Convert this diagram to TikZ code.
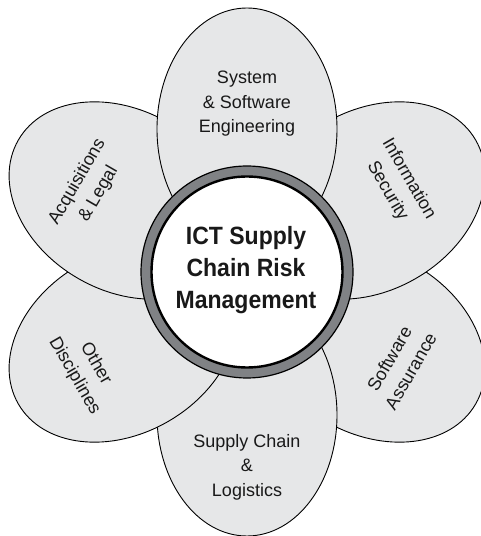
\documentclass[tikz,border=0pt]{standalone}
\usepackage{fontspec}
\setmainfont{Liberation Sans}
\newfontfamily\centerfont[FakeStretch=0.92]{Liberation Sans}
\usetikzlibrary{shapes.geometric,calc}
\definecolor{petalgray}{HTML}{E6E7E8}
\definecolor{ringgray}{HTML}{808285}
\begin{document}
\begin{tikzpicture}[x=1pt,y=1pt,
  petal/.style={ellipse, draw=black, line width=0.9pt, fill=petalgray,
    minimum width=242pt, minimum height=180pt, inner sep=0pt},
  petallabel/.style={align=center, font=\fontsize{18}{24.5}\selectfont, text=black!90, inner sep=0pt},
  ringnode/.style={circle, draw=black, line width=1.2pt, fill=ringgray, minimum size=212pt, inner sep=0pt},
  corenode/.style={circle, draw=black, line width=2.4pt, fill=white, minimum size=191pt, inner sep=0pt},
  coretext/.style={align=center, font=\centerfont\bfseries\fontsize{25}{32}\selectfont, text=black!90, inner sep=0pt}]
\clip (0,0) rectangle (481,536);
\fill[white] (0,0) rectangle (481,536);
\coordinate (C) at (247,264);
% petals (drawing order gives the overlaps)
\node[petal, rotate=-30] (pLR) at ($(C)+(-30:143)$) {};
\node[petal, rotate=30] (pUR) at ($(C)+(30:143)$) {};
\node[petal, rotate=-90] (pB) at ($(C)+(-90:143)$) {};
\node[petal, rotate=-150] (pLL) at ($(C)+(-150:143)$) {};
\node[petal, rotate=150] (pUL) at ($(C)+(150:143)$) {};
\node[petal, rotate=90] (pT) at ($(C)+(90:143)$) {};
% centre ring
\node[ringnode] (ring) at (C) {};
\node[corenode] (core) at (C) {};
\node[coretext] (title) at (246,266) {ICT Supply\\Chain Risk\\Management};
% labels
\node[petallabel] (lT) at (247,432) {System\\\& Software\\Engineering};
\node[petallabel] (lB) at (247,69) {Supply Chain\\\&\\Logistics};
\node[petallabel, rotate=-60] (lUR) at (398,351) {Information\\Security};
\node[petallabel, rotate=60] (lLR) at (400,171) {Software\\Assurance};
\node[petallabel, rotate=-60] (lLL) at (85,166) {Other\\Disciplines};
\node[petallabel, rotate=60] (lUL) at (88,348) {Acquisitions\\\& Legal};
\end{tikzpicture}
\end{document}
